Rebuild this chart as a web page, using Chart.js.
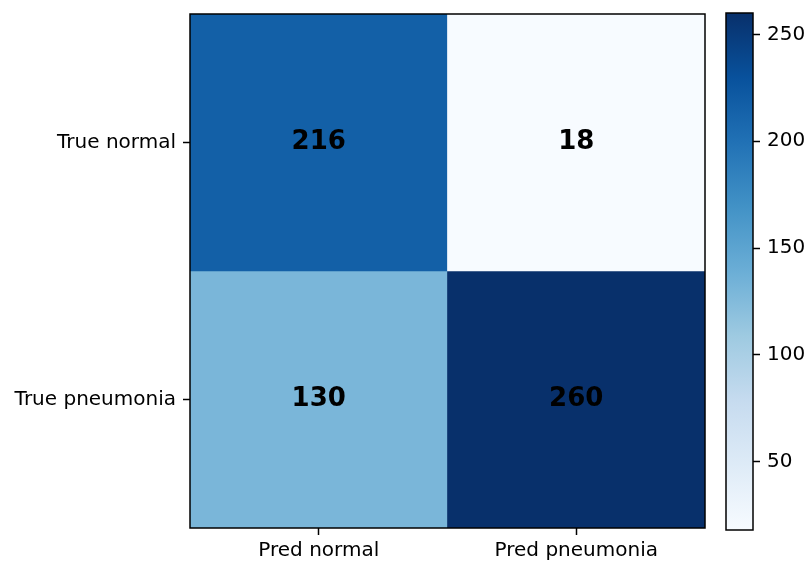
<!DOCTYPE html>
<html>
<head>
<meta charset="utf-8">
<script src="https://cdn.jsdelivr.net/npm/chart.js@4"></script>
<style>
  body { margin: 0; background: #fff; }
  #wrap { position: relative; width: 807px; height: 561px; }
  canvas { position: absolute; left: 0; top: 0; }
</style>
</head>
<body>
<div id="wrap">
  <canvas id="matrix" width="807" height="561"></canvas>
  <canvas id="colorbar" width="807" height="561"></canvas>
</div>
<script>
const rowLabels = ["True normal", "True pneumonia"];
const colLabels = ["Pred normal", "Pred pneumonia"];
const counts = [
    [216, 18],
    [130, 260]
];
const colorbarTicks = [50, 100, 150, 200, 250];
const colorMin = 18;
const colorMax = 260;

// matplotlib "Blues" control colours
const blues = [
    [247, 251, 255], [222, 235, 247], [198, 219, 239], [158, 202, 225],
    [107, 174, 214], [66, 146, 198], [33, 113, 181], [8, 81, 156], [8, 48, 107]
];

var bluesAt = (t) => {
    t = Math.min(1, Math.max(0, t));
    let p = t * (blues.length - 1);
    let i = Math.min(Math.floor(p), blues.length - 2);
    let f = p - i;
    let c = blues[i].map((v, k) => Math.round(v + (blues[i + 1][k] - v) * f));
    return 'rgb(' + c.join(',') + ')';
}
var colorFor = (v) => bluesAt((v - colorMin) / (colorMax - colorMin));

const tickFont = { family: 'DejaVu Sans', size: 20 };

const framePlugin = {
    id: 'frame',
    afterDatasetsDraw(chart) {
        const { ctx, chartArea: a } = chart;
        ctx.save();
        ctx.strokeStyle = '#000';
        ctx.lineWidth = 1.5;
        ctx.strokeRect(a.left, a.top, a.right - a.left, a.bottom - a.top);
        ctx.restore();
    }
};

const cellText = {
    id: 'cellText',
    afterDatasetsDraw(chart) {
        const { ctx, scales } = chart;
        ctx.save();
        ctx.font = 'bold 26px "DejaVu Sans"';
        ctx.fillStyle = '#000';
        ctx.textAlign = 'center';
        ctx.textBaseline = 'middle';
        counts.forEach((row, i) => {
            row.forEach((v, j) => {
                ctx.fillText(String(v), scales.x.getPixelForValue(j), scales.y.getPixelForValue(i + 0.5));
            });
        });
        ctx.restore();
    }
};

// fixed axis width, and no extra room reserved for the end labels
var fitVertical = (w) => (s) => {
    s.width = w;
    s.paddingTop = 0;
    s.paddingBottom = 0;
};

// one stacked dataset per row, each cell one unit tall
const rowSets = counts.map((row, i) => ({
    label: rowLabels[i],
    data: row.map(() => 1),
    backgroundColor: row.map(colorFor),
    borderWidth: 0,
    barPercentage: 1,
    categoryPercentage: 1
}));

window.onload = function() {
    new Chart(document.getElementById('matrix'), {
        type: 'bar',
        data: { labels: colLabels, datasets: rowSets },
        options: {
            responsive: false,
            animation: false,
            layout: { padding: { top: 14, right: 102, left: 0, bottom: 0 } },
            plugins: { legend: { display: false }, tooltip: { enabled: false } },
            scales: {
                x: {
                    stacked: true,
                    grid: { offset: false, drawOnChartArea: false, tickLength: 7, tickWidth: 1.5, tickColor: '#000' },
                    border: { display: false },
                    ticks: { font: tickFont, color: '#000', padding: 4, maxRotation: 0 },
                    afterFit: (s) => { s.height = 33; }
                },
                y: {
                    stacked: true,
                    reverse: true,
                    min: 0,
                    max: 2,
                    afterBuildTicks: (s) => { s.ticks = [0.5, 1.5].map(v => ({ value: v })); },
                    grid: { drawOnChartArea: false, tickLength: 7, tickWidth: 1.5, tickColor: '#000' },
                    border: { display: false },
                    ticks: { font: tickFont, color: '#000', padding: 7, callback: (v, i) => rowLabels[i] },
                    afterFit: fitVertical(190)
                }
            }
        },
        plugins: [framePlugin, cellText]
    });

    new Chart(document.getElementById('colorbar'), {
        type: 'bar',
        data: {
            labels: [''],
            datasets: [{
                data: [[colorMin, colorMax]],
                backgroundColor: (c) => {
                    const a = c.chart.chartArea;
                    if (!a) return colorFor(colorMax);
                    const g = c.chart.ctx.createLinearGradient(0, a.bottom, 0, a.top);
                    blues.forEach((b, i) => g.addColorStop(i / (blues.length - 1), 'rgb(' + b.join(',') + ')'));
                    return g;
                },
                borderWidth: 0,
                barPercentage: 1,
                categoryPercentage: 1
            }]
        },
        options: {
            responsive: false,
            animation: false,
            layout: { padding: { top: 13, left: 726, right: 0, bottom: 31 } },
            plugins: { legend: { display: false }, tooltip: { enabled: false } },
            scales: {
                x: { display: false },
                y: {
                    position: 'right',
                    min: colorMin,
                    max: colorMax,
                    afterBuildTicks: (s) => { s.ticks = colorbarTicks.map(v => ({ value: v })); },
                    grid: { drawOnChartArea: false, tickLength: 7, tickWidth: 1.5, tickColor: '#000' },
                    border: { display: false },
                    ticks: { font: tickFont, color: '#000', padding: 7 },
                    afterFit: fitVertical(54)
                }
            }
        },
        plugins: [framePlugin]
    });
}
</script>
</body>
</html>
